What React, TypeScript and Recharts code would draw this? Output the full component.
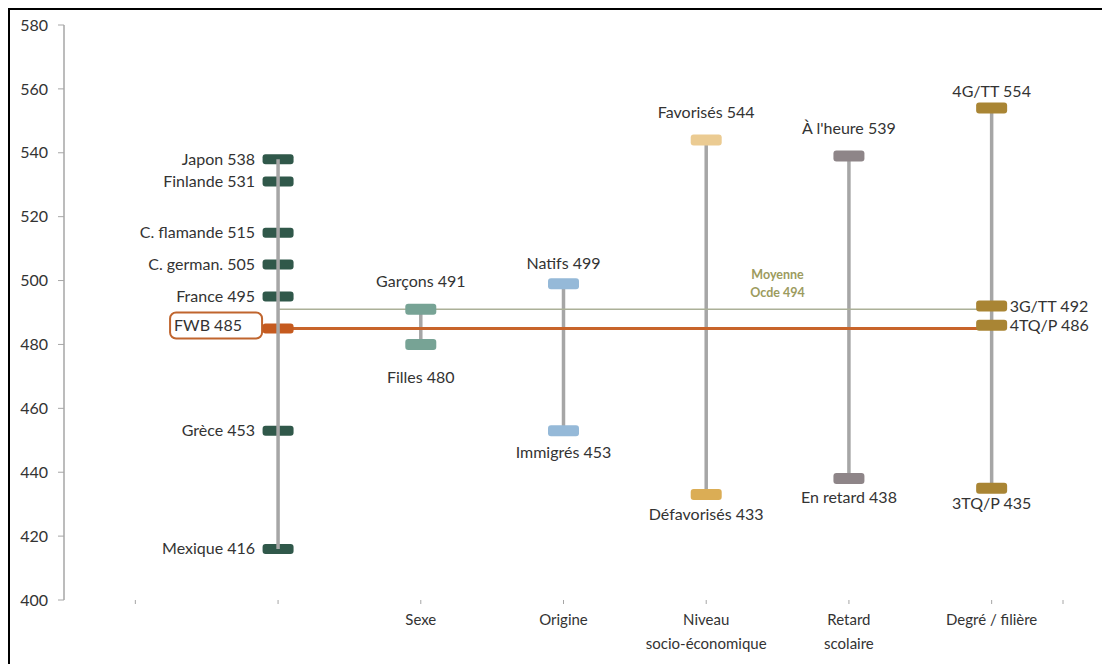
import React from "react";
import { ComposedChart, Scatter, XAxis, YAxis } from "recharts";

// PISA-style scores by group
const countryNames = ["Japon", "Finlande", "C. flamande", "C. german.", "France", "FWB", "Grèce", "Mexique"];
const countryScores = [538, 531, 515, 505, 495, 485, 453, 416];
const highlightCountry = "FWB";

const sexNames = ["Garçons", "Filles"];
const sexScores = [491, 480];

const originNames = ["Natifs", "Immigrés"];
const originScores = [499, 453];

const sesNames = ["Favorisés", "Défavorisés"];
const sesScores = [544, 433];

const delayNames = ["À l'heure", "En retard"];
const delayScores = [539, 438];

const trackNames = ["4G/TT", "3G/TT", "4TQ/P", "3TQ/P"];
const trackScores = [554, 492, 486, 435];

const categoryLabels = ["", "", "Sexe", "Origine", "Niveau\nsocio-économique", "Retard\nscolaire", "Degré / filière"];
const yTicks = [400, 420, 440, 460, 480, 500, 520, 540, 560, 580];

const oecdLabel = "Moyenne|Ocde 494";
const oecdLineLevel = 491;

const FONT = "Lato, 'Open Sans', sans-serif";
const TEXT = "#333333";
const GREY = "#a6a6a6";
const ORANGE = "#c8642a";
const OLIVE = "#abb098";

type Side = "left" | "box" | "above" | "below" | "right";

interface Pt {
  x: number;
  y: number;
  name: string;
  color: string;
  side: Side;
  gap: number;
  w: number;
  h: number;
}

const colOf = (i: number) => i + 0.5;

function group(
  col: number,
  names: string[],
  scores: number[],
  colors: string[],
  sides: Side[],
  gaps: number[],
  w = 31,
  h = 11
): Pt[] {
  return names.map((n, i) => ({
    x: colOf(col),
    y: scores[i],
    name: n,
    color: colors[i % colors.length],
    side: sides[i],
    gap: gaps[i],
    w,
    h,
  }));
}

const countryPts = group(
  1,
  countryNames,
  countryScores,
  countryNames.map((n) => (n === highlightCountry ? "#c55a1f" : "#30584a")),
  countryNames.map((n) => (n === highlightCountry ? "box" : "left")),
  countryNames.map(() => 23),
  31,
  10
);
const sexPts = group(2, sexNames, sexScores, ["#77a395"], ["above", "below"], [28, 33]);
const originPts = group(3, originNames, originScores, ["#95b9d8"], ["above", "below"], [20, 22]);
const sesPts = group(4, sesNames, sesScores, ["#ebcb92", "#dbad55"], ["above", "below"], [28, 20]);
const delayPts = group(5, delayNames, delayScores, ["#8e8588"], ["above", "below"], [28, 19]);
const trackPts = group(6, trackNames, trackScores, ["#a98534"], ["above", "right", "right", "below"], [17, 18, 18, 15]);

const otherGroups = [sexPts, originPts, sesPts, delayPts, trackPts];
const allGroups = [countryPts, ...otherGroups];

const rangeLine = (pts: Pt[]) => {
  const ys = pts.map((p) => p.y);
  return [
    { x: pts[0].x, y: Math.min(...ys) },
    { x: pts[0].x, y: Math.max(...ys) },
  ];
};

const fwbLevel = countryScores[countryNames.indexOf(highlightCountry)];
const fwbLine = [
  { x: colOf(1), y: fwbLevel },
  { x: colOf(6), y: fwbLevel },
];
const oecdLine = [
  { x: colOf(1), y: oecdLineLevel },
  { x: colOf(6), y: oecdLineLevel },
];
const oecdNote = [{ x: 5, y: oecdLineLevel }];

const xTicks = [...categoryLabels.map((_, i) => colOf(i)), categoryLabels.length];

const Empty = () => <g />;

function Marker(props: any) {
  const { cx, cy, payload } = props;
  const p = payload as Pt;
  const label = `${p.name} ${p.y}`;
  const textProps = { fontFamily: FONT, fontSize: 16, fill: TEXT };
  let text: React.ReactNode = null;
  if (p.side === "left") {
    text = (
      <text x={cx - p.gap} y={cy} dy="0.35em" textAnchor="end" {...textProps}>
        {label}
      </text>
    );
  } else if (p.side === "box") {
    text = (
      <g>
        <rect x={cx - 108} y={cy - 16} width={92} height={26} rx={6} fill="#fff" stroke="#c0652e" strokeWidth={2} />
        <text x={cx - 104} y={cy - 3} dy="0.35em" textAnchor="start" {...textProps}>
          {label}
        </text>
      </g>
    );
  } else if (p.side === "above") {
    text = (
      <text x={cx} y={cy - p.gap} dy="0.35em" textAnchor="middle" {...textProps}>
        {label}
      </text>
    );
  } else if (p.side === "below") {
    text = (
      <text x={cx} y={cy + p.gap} dy="0.35em" textAnchor="middle" {...textProps}>
        {label}
      </text>
    );
  } else {
    text = (
      <text x={cx + p.gap} y={cy} dy="0.35em" textAnchor="start" {...textProps}>
        {label}
      </text>
    );
  }
  return (
    <g>
      {text}
      <rect x={cx - p.w / 2} y={cy - p.h / 2} width={p.w} height={p.h} rx={3} fill={p.color} />
    </g>
  );
}

function OecdNote(props: any) {
  const { cx, cy } = props;
  const [a, b] = oecdLabel.split("|");
  return (
    <text textAnchor="middle" fontFamily={FONT} fontSize={12.5} fontWeight={700} fill="#9c9b5e">
      <tspan x={cx} y={cy - 30}>
        {a}
      </tspan>
      <tspan x={cx} y={cy - 12}>
        {b}
      </tspan>
    </text>
  );
}

function CategoryTick(props: any) {
  const { x, y, payload } = props;
  const label = categoryLabels[Math.floor(payload.value)] ?? "";
  const lines = label.split("\n");
  return (
    <text x={x} y={y} textAnchor="middle" fontFamily={FONT} fontSize={15} fill={TEXT}>
      {lines.map((l, i) => (
        <tspan key={i} x={x} dy={i === 0 ? 19 : 24}>
          {l}
        </tspan>
      ))}
    </text>
  );
}

export default function App() {
  return (
    <div
      style={{
        width: 1102,
        height: 656,
        boxSizing: "border-box",
        borderTop: "2px solid #000",
        borderLeft: "2px solid #000",
        background: "#fff",
      }}
    >
      <style>{"body{overflow:hidden}"}</style>
      <ComposedChart width={1090} height={654} margin={{ top: 15, right: 37, bottom: 14, left: 10 }}>
        <XAxis
          type="number"
          dataKey="x"
          domain={[0, categoryLabels.length]}
          ticks={xTicks}
          interval={0}
          axisLine={false}
          tickLine={{ stroke: GREY }}
          tickSize={4}
          height={50}
          tick={<CategoryTick />}
        />
        <YAxis
          type="number"
          dataKey="y"
          domain={[400, 580]}
          ticks={yTicks}
          interval={0}
          width={44}
          axisLine={{ stroke: GREY, strokeWidth: 1.5 }}
          tickLine={{ stroke: GREY }}
          tickSize={6}
          tickMargin={10}
          tick={{ fontFamily: FONT, fontSize: 16, fill: TEXT }}
        />
        {otherGroups.map((g, i) => (
          <Scatter
            key={`range-${i}`}
            data={rangeLine(g)}
            line={{ stroke: GREY, strokeWidth: 3.5 }}
            shape={<Empty />}
            isAnimationActive={false}
          />
        ))}
        <Scatter data={oecdLine} line={{ stroke: OLIVE, strokeWidth: 1.5 }} shape={<Empty />} isAnimationActive={false} />
        <Scatter data={fwbLine} line={{ stroke: ORANGE, strokeWidth: 3 }} shape={<Empty />} isAnimationActive={false} />
        <Scatter data={oecdNote} shape={<OecdNote />} isAnimationActive={false} />
        {allGroups.map((g, i) => (
          <Scatter key={`pts-${i}`} data={g} shape={<Marker />} isAnimationActive={false} />
        ))}
        <Scatter
          data={rangeLine(countryPts)}
          line={{ stroke: GREY, strokeWidth: 3.5 }}
          shape={<Empty />}
          isAnimationActive={false}
        />
      </ComposedChart>
    </div>
  );
}
